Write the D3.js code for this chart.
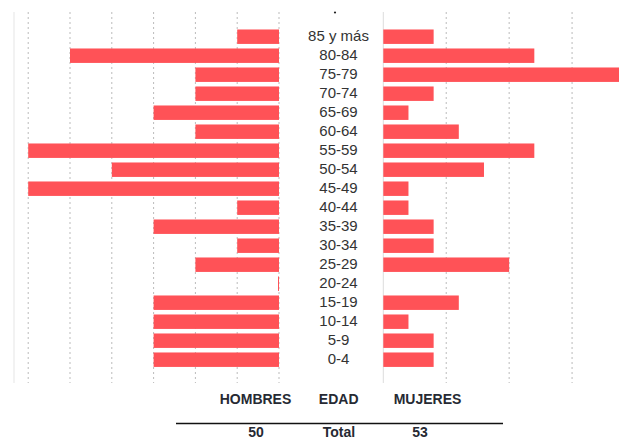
<!DOCTYPE html>
<html>
<head>
<meta charset="utf-8">
<script src="https://cdnjs.cloudflare.com/ajax/libs/d3/7.8.5/d3.min.js"></script>
<style>
  body { margin: 0; background: #fff; }
  text { font-family: "Liberation Sans", Arial, sans-serif; }
</style>
</head>
<body>
<svg id="chart"></svg>
<script>
var width = 619;
var height = 438;

// grupos de edad, de arriba a abajo
var edades = ['85 y más', '80-84', '75-79', '70-74', '65-69', '60-64', '55-59', '50-54',
  '45-49', '40-44', '35-39', '30-34', '25-29', '20-24', '15-19', '10-14', '5-9', '0-4'];
var hombres = [1, 5, 2, 2, 3, 2, 6, 4, 6, 1, 3, 1, 2, 0, 3, 3, 3, 3];
var mujeres = [2, 6, 10, 2, 1, 3, 6, 4, 1, 1, 2, 2, 5, 0, 3, 1, 2, 2];
var totales = ['50', 'Total', '53'];
var cabeceras = ['HOMBRES', 'EDAD', 'MUJERES'];

var svg = d3.select('#chart').attr('width', width).attr('height', height);

var barColor = '#ff5257';
var textColor = '#333';

var y = d3.scaleBand().domain(edades).range([27.2, 369.2])
  .paddingInner(0.24).paddingOuter(0.12);

// hombres: crece hacia la izquierda
var xL = d3.scaleLinear().domain([0, 6.34]).range([279, 14]);
// mujeres: crece hacia la derecha (se sale del cuadro)
var xR = d3.scaleLinear().domain([0, 10]).range([383.3, 635]);

var gridTop = 12, gridBottom = 383;

// borde izquierdo claro
svg.append('line')
  .attr('x1', 14).attr('x2', 14).attr('y1', gridTop).attr('y2', gridBottom)
  .attr('stroke', '#eee').attr('stroke-width', 1.5);

// rejilla izquierda
svg.append('g').selectAll('line')
  .data(d3.range(0, 7))
  .enter().append('line')
  .attr('x1', function(d){ return xL(d); })
  .attr('x2', function(d){ return xL(d); })
  .attr('y1', gridTop).attr('y2', gridBottom)
  .attr('stroke', '#bbb').attr('stroke-dasharray', '2,3');

// rejilla derecha
svg.append('g').selectAll('line')
  .data([2.5, 5, 7.5])
  .enter().append('line')
  .attr('x1', function(d){ return xR(d); })
  .attr('x2', function(d){ return xR(d); })
  .attr('y1', gridTop).attr('y2', gridBottom)
  .attr('stroke', '#bbb').attr('stroke-dasharray', '2,3');

svg.append('line')
  .attr('x1', xR(0)).attr('x2', xR(0)).attr('y1', gridTop).attr('y2', gridBottom)
  .attr('stroke', '#ddd');

// punto suelto arriba
svg.append('circle').attr('cx', 335).attr('cy', 12.5).attr('r', 1.1).attr('fill', '#222');

// barras hombres
svg.append('g').selectAll('rect')
  .data(hombres)
  .enter().append('rect')
  .attr('x', function(d){ return d === 0 ? xL(0) - 1 : xL(d); })
  .attr('y', function(d, i){ return y(edades[i]); })
  .attr('width', function(d){ return d === 0 ? 1 : xL(0) - xL(d); })
  .attr('height', y.bandwidth())
  .attr('fill', barColor);

// barras mujeres
svg.append('g').selectAll('rect')
  .data(mujeres)
  .enter().append('rect')
  .attr('x', xR(0))
  .attr('y', function(d, i){ return y(edades[i]); })
  .attr('width', function(d){ return xR(d) - xR(0); })
  .attr('height', y.bandwidth())
  .attr('fill', barColor);

// etiquetas de edad
svg.append('g').selectAll('text')
  .data(edades)
  .enter().append('text')
  .attr('x', 338.5)
  .attr('y', function(d){ return y(d) + y.bandwidth() / 2; })
  .attr('dy', '0.26em')
  .attr('text-anchor', 'middle')
  .attr('font-size', 15)
  .attr('fill', textColor)
  .text(function(d){ return d; });

var colX = [255.5, 338.7, 427.5];

svg.append('g').selectAll('text')
  .data(cabeceras)
  .enter().append('text')
  .attr('x', function(d, i){ return colX[i]; })
  .attr('y', 404)
  .attr('text-anchor', 'middle')
  .attr('font-size', 14)
  .attr('font-weight', 'bold')
  .attr('fill', '#262a33')
  .text(function(d){ return d; });

svg.append('line')
  .attr('x1', 176).attr('x2', 503).attr('y1', 423.5).attr('y2', 423.5)
  .attr('stroke', '#111').attr('stroke-width', 1.5);

svg.append('g').selectAll('text')
  .data(totales)
  .enter().append('text')
  .attr('x', function(d, i){ return [256, 339, 420][i]; })
  .attr('y', 437)
  .attr('text-anchor', 'middle')
  .attr('font-size', 14)
  .attr('font-weight', 'bold')
  .attr('fill', '#262a33')
  .text(function(d){ return d; });
</script>
</body>
</html>
